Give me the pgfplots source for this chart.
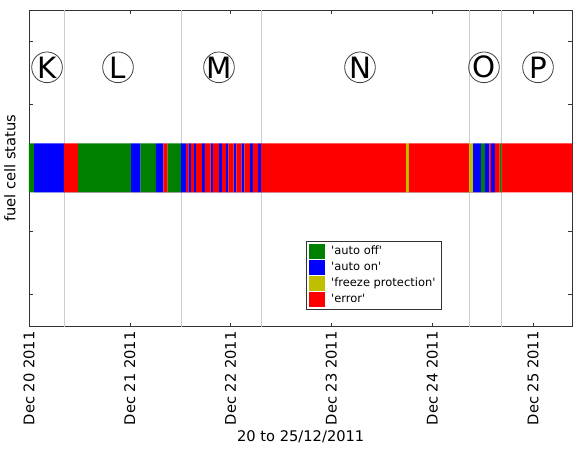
\documentclass[border=0pt]{standalone}
\usepackage{fontspec}
\setmainfont{DejaVu Sans}
\usepackage{pgfplots}
\pgfplotsset{compat=1.18}
\definecolor{cgreen}{RGB}{0,128,0}
\definecolor{cblue}{RGB}{0,0,255}
\definecolor{cyellow}{RGB}{191,191,0}
\definecolor{cred}{RGB}{255,0,0}
\newcommand{\q}{\textquotesingle}
\begin{document}
\begin{tikzpicture}
\begin{axis}[
  scale only axis,
  width=407.6pt, height=237.5pt,
  xmin=0, xmax=5.392,
  ymin=-2.743, ymax=3.720,
  axis line style={black!80},
  every tick/.style={black!80},
  major tick length=3pt,
  xtick={0,1,2,3,4,5},
  xticklabels={Dec 20 2011,Dec 21 2011,Dec 22 2011,Dec 23 2011,Dec 24 2011,Dec 25 2011},
  xticklabel style={rotate=90, anchor=east, font=\fontsize{11}{13}\selectfont},
  ytick={-2.084,-0.792,0.5,1.792,3.084},
  yticklabels={},
  extra x ticks={0.347,1.508,2.302,4.365,4.688},
  extra x tick labels={},
  extra x tick style={grid=major, major grid style={black!20, line width=0.6pt}, major tick length=0pt},
  xlabel={20 to 25/12/2011},
  ylabel={fuel cell status},
  every axis x label/.style={at={(axis description cs:0.5,0)}, anchor=center, yshift=-82.7pt, font=\fontsize{11}{13}\selectfont},
  every axis y label/.style={at={(axis description cs:-0.035,0.5)}, anchor=center, rotate=90, font=\fontsize{11}{13}\selectfont},
  legend style={at={(rel axis cs:0.509,0.272)}, anchor=north west, draw=black!80, font=\fontsize{8.6}{10}\selectfont, row sep=0pt, inner sep=2pt},
  legend cell align=left,
  legend image code/.code={\fill[#1] (0pt,-5.6pt) rectangle (12pt,5.6pt); \path (15pt,0pt);},
]
% auto off
\addplot[ybar interval, fill=cgreen, draw=none] coordinates {
 (0.000,1) (0.050,0) (0.486,1) (1.012,0) (1.106,1) (1.260,0) (1.372,1) (1.508,0)
 (4.484,1) (4.524,0) (4.668,1) (4.688,0)
};
\addlegendentry{\q auto off\q}
% auto on
\addplot[ybar interval, fill=cblue, draw=none] coordinates {
 (0.050,1) (0.347,0) (1.012,1) (1.106,0) (1.260,1) (1.332,0) (1.508,1) (1.558,0)
 (1.580,1) (1.607,0) (1.637,1) (1.657,0) (1.716,1) (1.746,0) (1.801,1) (1.825,0)
 (1.885,1) (1.915,0) (1.954,1) (1.979,0) (2.029,1) (2.058,0) (2.108,1) (2.138,0)
 (2.192,1) (2.222,0) (2.272,1) (2.302,0) (4.405,1) (4.484,0) (4.524,1) (4.568,0)
 (4.583,1) (4.623,0)
};
\addlegendentry{\q auto on\q}
% freeze protection
\addplot[ybar interval, fill=cyellow, draw=none] coordinates {
 (3.740,1) (3.770,0) (4.365,1) (4.405,0)
};
\addlegendentry{\q freeze protection\q}
% error
\addplot[ybar interval, fill=cred, draw=none] coordinates {
 (0.347,1) (0.486,0) (1.332,1) (1.372,0) (1.558,1) (1.580,0) (1.607,1) (1.637,0)
 (1.657,1) (1.716,0) (1.746,1) (1.801,0) (1.825,1) (1.885,0) (1.915,1) (1.954,0)
 (1.979,1) (2.029,0) (2.058,1) (2.108,0) (2.138,1) (2.192,0) (2.222,1) (2.272,0)
 (2.302,1) (3.740,0) (3.770,1) (4.365,0) (4.568,1) (4.583,0) (4.623,1) (4.668,0)
 (4.688,1) (5.450,0)
};
\addlegendentry{\q error\q}
\begin{scope}[every node/.style={draw=black!75, line width=0.6pt, circle, inner sep=-1pt, minimum size=23pt, font=\fontsize{22}{22}\selectfont}]
\node at (axis cs:0.179,2.55) {K};
\node at (axis cs:0.883,2.55) {L};
\node at (axis cs:1.885,2.55) {M};
\node at (axis cs:3.284,2.55) {N};
\node at (axis cs:4.514,2.55) {O};
\node at (axis cs:5.050,2.55) {P};
\end{scope}
\end{axis}
\pgfresetboundingbox
\path[use as bounding box] ([shift={(-21.75pt,-91.1pt)}]current axis.south west) rectangle ([shift={(0.4pt,7.5pt)}]current axis.north east);
\end{tikzpicture}
\end{document}
